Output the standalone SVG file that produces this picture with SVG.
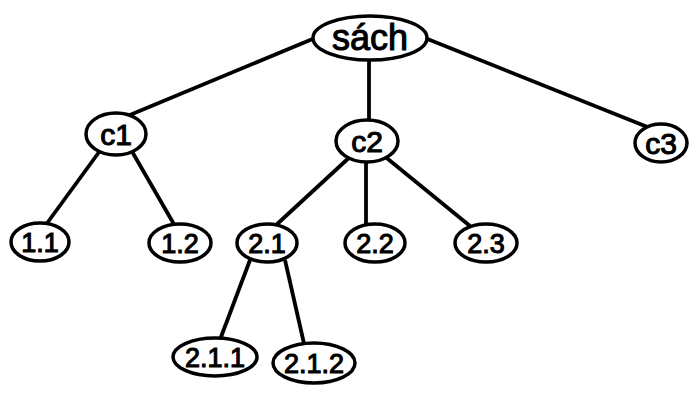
<svg xmlns="http://www.w3.org/2000/svg" width="690" height="403" viewBox="0 0 690 403">
<style>
.n ellipse{fill:#fff;stroke:#000;stroke-width:3.5}
.n text{font-family:"Liberation Sans",Arial,sans-serif;fill:#000;text-anchor:middle;font-size:27px;stroke:#000;stroke-width:1.1}
.n text.big{font-size:36px}
.n text.mid{font-size:30px}
.e line{stroke:#000;stroke-width:3.8}
</style>
<rect width="690" height="403" fill="#fff"/>
<g class="e" id="connectors">
<line x1="315" y1="38" x2="125" y2="117"/>
<line x1="425" y1="38" x2="650" y2="128"/>
<line x1="369" y1="58" x2="369" y2="120"/>
<line x1="102" y1="148" x2="45" y2="226"/>
<line x1="130" y1="148" x2="175" y2="226"/>
<line x1="352" y1="155" x2="275" y2="226"/>
<line x1="366" y1="160" x2="366" y2="226"/>
<line x1="383" y1="155" x2="470" y2="226"/>
<line x1="250" y1="260" x2="218" y2="345"/>
<line x1="285" y1="260" x2="305" y2="348"/>
</g>
<g class="n" id="n-sach"><ellipse cx="370" cy="38" rx="57" ry="22"/><text class="big" x="370" y="50">sách</text></g>
<g class="n" id="n-c1"><ellipse cx="116" cy="134" rx="30" ry="21"/><text class="mid" x="116" y="145">c1</text></g>
<g class="n" id="n-c2"><ellipse cx="367" cy="141" rx="31" ry="21"/><text class="mid" x="367" y="152">c2</text></g>
<g class="n" id="n-c3"><ellipse cx="661" cy="143" rx="26" ry="19"/><text class="mid" x="661" y="154">c3</text></g>
<g class="n" id="n-1.1"><ellipse cx="40" cy="242" rx="29" ry="19"/><text x="40" y="252">1.1</text></g>
<g class="n" id="n-1.2"><ellipse cx="180" cy="243" rx="31" ry="19"/><text x="180" y="253">1.2</text></g>
<g class="n" id="n-2.1"><ellipse cx="267" cy="243" rx="30" ry="19"/><text x="267" y="253">2.1</text></g>
<g class="n" id="n-2.2"><ellipse cx="375" cy="243" rx="30" ry="19"/><text x="375" y="253">2.2</text></g>
<g class="n" id="n-2.3"><ellipse cx="486" cy="243" rx="31" ry="19"/><text x="486" y="253">2.3</text></g>
<g class="n" id="n-2.1.1"><ellipse cx="215" cy="357" rx="42" ry="19"/><text x="215" y="367">2.1.1</text></g>
<g class="n" id="n-2.1.2"><ellipse cx="314" cy="363" rx="41" ry="20"/><text x="314" y="373">2.1.2</text></g>
</svg>
